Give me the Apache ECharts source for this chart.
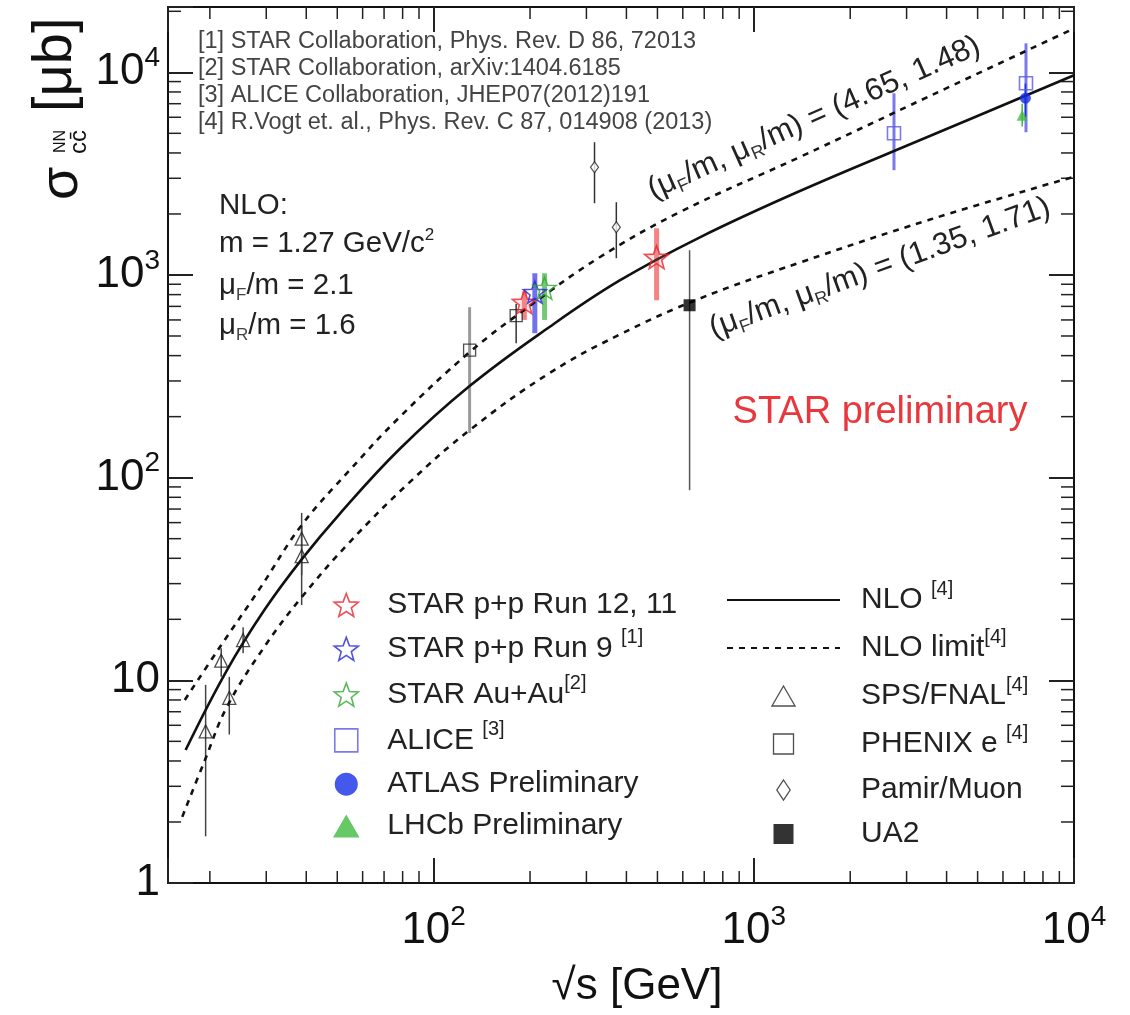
<!DOCTYPE html>
<html><head><meta charset="utf-8">
<script src="https://cdn.jsdelivr.net/npm/echarts@6/dist/echarts.min.js"></script>
<style>html,body{margin:0;padding:0;background:#fff}#chart{width:1130px;height:1015px}</style>
</head><body><div id="chart"></div>
<script>
// ---------- axis ranges and ticks ----------
const X_MIN = 14.8, X_MAX = 10000, Y_MIN = 1, Y_MAX = 21000;
const xMinorTicks = [20,30,40,50,60,70,80,90,200,300,400,500,600,700,800,900,2000,3000,4000,5000,6000,7000,8000,9000];
const yMinorTicks = [2,3,4,5,6,7,8,9,20,30,40,50,60,70,80,90,200,300,400,500,600,700,800,900,2000,3000,4000,5000,6000,7000,8000,9000,20000];

// ---------- NLO curves ----------
const nloX   = [16.8, 22.6, 29.7, 38.7, 50.9, 78.3, 129.5, 230, 380, 676, 1387, 3530, 10000];
const nloY   = [4.53, 11.2, 22.4, 39.5, 66.3, 138.4, 283, 554, 937, 1530, 2588, 4833, 9666];
const upperX = [16.7, 21.5, 28.7, 38.7, 54.7, 78.3, 129.5, 199, 330, 586, 1387, 3530, 10000];
const upperY = [8.0, 14.6, 28.5, 58.3, 109, 199, 416, 701, 1223, 2039, 3809, 7614, 16450];
const lowerX = [16.4, 19.3, 22.6, 29.7, 38.7, 54.7, 84.2, 129.5, 230, 380, 676, 1387, 3530, 10000];
const lowerY = [2.12, 4.04, 7.38, 14.75, 25.7, 48.1, 95, 171.5, 328, 507, 764, 1149, 1871, 3055];

// ---------- measurements ----------
const spsX  = [19.4, 21.7, 23.0, 25.4, 38.7, 38.7];
const spsY  = [5.6, 12.5, 8.2, 15.8, 50, 41];
const spsLo = [1.7, 10.4, 5.4, 13.6, 33, 23.5];
const spsHi = [9.5, 14.4, 10.4, 18.3, 67, 58];

const phenixX  = [129.5, 181];
const phenixY  = [426, 630];
const phenixLo = [166, 460];
const phenixHi = [693, 720];

const pamirX  = [318, 372];
const pamirY  = [3400, 1720];
const pamirLo = [2260, 1210];
const pamirHi = [4520, 2285];

const ua2X = [630], ua2Y = [709], ua2Lo = [86.7], ua2Hi = [1325];

const starRunX  = [192, 497];
const starRunY  = [734, 1224];
const starRunLo = [600, 750];
const starRunHi = [830, 1700];

const starRun9X = [207], starRun9Y = [822], starRun9Lo = [516], starRun9Hi = [1020];
const starAuX = [222], starAuY = [861], starAuLo = [600], starAuHi = [1020];

const aliceX  = [2740, 7080];
const aliceY  = [5000, 8830];
const aliceLo = [3290, 5060];
const aliceHi = [7880, 13900];

const atlasX = [7050], atlasY = [7450], atlasLo = [6000], atlasHi = [8800];
const lhcbX = [6890], lhcbY = [6140], lhcbLo = [5400], lhcbHi = [7000];

// ---------- texts ----------
const refLines = [
  '[1] STAR Collaboration, Phys. Rev. D 86, 72013',
  '[2] STAR Collaboration, arXiv:1404.6185',
  '[3] ALICE Collaboration, JHEP07(2012)191',
  '[4] R.Vogt et. al., Phys. Rev. C 87, 014908 (2013)'
];
const legendLeft = ['STAR p+p Run 12, 11', 'STAR p+p Run 9', 'STAR Au+Au', 'ALICE', 'ATLAS Preliminary', 'LHCb Preliminary'];
const legendRight = ['NLO', 'NLO limit', 'SPS/FNAL', 'PHENIX e', 'Pamir/Muon', 'UA2'];
const legendRefs = {'STAR p+p Run 9': ' {s|[1]}', 'STAR Au+Au': '{s|[2]}', 'ALICE': ' {s|[3]}',
  'NLO': ' {s|[4]}', 'NLO limit': '{s|[4]}', 'SPS/FNAL': '{s|[4]}', 'PHENIX e': ' {s|[4]}'};

// ---------- styling ----------
const FONT = "'Liberation Sans', Arial, Helvetica, sans-serif";
const NARROW = "'Liberation Sans Narrow', 'Liberation Sans', Arial, sans-serif";
const STAR = 'path://M0,-10L2.469,-3.398L9.511,-3.09L3.994,1.298L5.878,8.09L0,4.2L-5.878,8.09L-3.994,1.298L-9.511,-3.09L-2.469,-3.398Z';
const SQUARE = 'path://M0,0L10,0L10,10L0,10Z';
const TRIANGLE = 'path://M5,0L10,8.66L0,8.66Z';
const DIAMOND = 'path://M4,0L8,6L4,12L0,6Z';
const CIRCLE = 'path://M5,0A5,5,0,1,1,4.999,0Z';
const RED = '#e8262c', BLUE = '#2424d8', GREEN = '#34a834', ALICEC = '#5a5ae2', ATLASC = '#1530e6', LHCBC = '#40bb40';
const HOLLOW = 'rgba(0,0,0,0)';
const zip = (xs, ys) => xs.map((x, i) => [x, ys[i]]);
const zip3 = (xs, a, b) => xs.map((x, i) => [x, a[i], b[i]]);

function errSeries(name, xs, lo, hi, color, width, opacity) {
  return {
    type: 'custom', name: name, z: 2, silent: true,
    data: zip3(xs, lo, hi), encode: {x: 0, y: [1, 2]},
    renderItem: function (params, api) {
      const a = api.coord([api.value(0), api.value(1)]);
      const b = api.coord([api.value(0), api.value(2)]);
      return {type: 'line', shape: {x1: a[0], y1: a[1], x2: b[0], y2: b[1]},
        style: {stroke: color, lineWidth: width, opacity: opacity == null ? 1 : opacity}};
    }
  };
}
function scatter(name, xs, ys, symbol, size, itemStyle) {
  return {type: 'scatter', name: name, data: zip(xs, ys), symbol: symbol, symbolSize: size,
    symbolKeepAspect: true, itemStyle: itemStyle, z: 5, silent: true};
}
function powLabel(v) {
  const l = Math.log10(v), e = Math.round(l);
  if (Math.abs(l - e) > 1e-6) return '';
  if (e === 0) return '1';
  if (e === 1) return '10';
  return '{b|10}{e|' + e + '}';
}
const labelRich = {
  b: {fontSize: 44, fontFamily: NARROW, color: '#111'},
  e: {fontSize: 28, fontFamily: NARROW, color: '#111', padding: [0, 0, 28, 0]}
};
const axisCommon = {
  type: 'log', logBase: 10,
  axisLine: {show: true, onZero: false, lineStyle: {color: '#111', width: 2}},
  axisTick: {show: true, inside: true, length: 25, lineStyle: {color: '#222', width: 2}},
  splitLine: {show: false}, minorTick: {show: false}
};

const legendText = {fontSize: 30, fontFamily: FONT, color: '#222', lineHeight: 38, padding: [0, 0, 0, 6],
  rich: {s: {fontSize: 20, fontFamily: FONT, color: '#222', lineHeight: 16, padding: [0, 0, 22, 0]}}};
const noSymbol = {color: HOLLOW, borderColor: HOLLOW, borderWidth: 0, opacity: 0};

const option = {
  animation: false,
  backgroundColor: '#ffffff',
  grid: {left: 168, right: 56, top: 7, bottom: 132},
  xAxis: [
    Object.assign({}, axisCommon, {min: X_MIN, max: X_MAX, position: 'bottom',
      axisLabel: {show: true, margin: 20, formatter: powLabel, fontSize: 44, fontFamily: NARROW, color: '#111', rich: labelRich}}),
    Object.assign({}, axisCommon, {min: X_MIN, max: X_MAX, position: 'top', axisLabel: {show: false}})
  ],
  yAxis: [
    Object.assign({}, axisCommon, {min: Y_MIN, max: Y_MAX, position: 'left',
      axisLabel: {show: true, margin: 8, formatter: powLabel, fontSize: 44, fontFamily: NARROW, color: '#111', rich: labelRich}}),
    Object.assign({}, axisCommon, {min: Y_MIN, max: Y_MAX, position: 'right', axisLabel: {show: false}})
  ],
  legend: [
    {orient: 'vertical', left: 328, top: 581, itemWidth: 60, itemHeight: 23, itemGap: 3.8, selectedMode: false,
     symbolKeepAspect: true, textStyle: legendText, formatter: n => n + (legendRefs[n] || ''),
     data: [
       {name: legendLeft[0], icon: STAR, itemStyle: {color: HOLLOW, borderColor: RED, borderWidth: 1.6}},
       {name: legendLeft[1], icon: STAR, itemStyle: {color: HOLLOW, borderColor: BLUE, borderWidth: 1.6}},
       {name: legendLeft[2], icon: STAR, itemStyle: {color: HOLLOW, borderColor: GREEN, borderWidth: 1.6}},
       {name: legendLeft[3], icon: SQUARE, itemStyle: {color: HOLLOW, borderColor: ALICEC, borderWidth: 1.6}},
       {name: legendLeft[4], icon: CIRCLE, itemStyle: {color: ATLASC, borderWidth: 0}},
       {name: legendLeft[5], icon: TRIANGLE, itemStyle: {color: LHCBC, borderWidth: 0}}
     ]},
    {orient: 'vertical', left: 721, top: 574, itemWidth: 113, itemHeight: 20, itemGap: 6, selectedMode: false,
     symbolKeepAspect: true, textStyle: Object.assign({}, legendText, {padding: [0, 0, 0, 16]}),
     formatter: n => n + (legendRefs[n] || ''),
     data: [
       {name: legendRight[0], itemStyle: noSymbol},
       {name: legendRight[1], itemStyle: noSymbol},
       {name: legendRight[2], icon: TRIANGLE, itemStyle: {color: HOLLOW, borderColor: '#222', borderWidth: 1.3}},
       {name: legendRight[3], icon: SQUARE, itemStyle: {color: HOLLOW, borderColor: '#222', borderWidth: 1.3}},
       {name: legendRight[4], icon: DIAMOND, itemStyle: {color: HOLLOW, borderColor: '#222', borderWidth: 1.3}},
       {name: legendRight[5], icon: SQUARE, itemStyle: {color: '#000', borderWidth: 0}}
     ]}
  ],
  series: [
    // minor ticks on all four sides
    {type: 'custom', name: 'xMinor', silent: true, z: 1, clip: false,
     data: xMinorTicks.map(v => [v, Y_MIN]), encode: {x: 0, y: 1},
     renderItem: function (p, api) {
       const b = api.coord([api.value(0), Y_MIN]), t = api.coord([api.value(0), Y_MAX]);
       const st = {stroke: '#222', lineWidth: 1.5};
       return {type: 'group', children: [
         {type: 'line', shape: {x1: b[0], y1: b[1], x2: b[0], y2: b[1] - 12}, style: st},
         {type: 'line', shape: {x1: t[0], y1: t[1], x2: t[0], y2: t[1] + 12}, style: st}]};
     }},
    {type: 'custom', name: 'yMinor', silent: true, z: 1, clip: false,
     data: yMinorTicks.map(v => [X_MIN, v]), encode: {x: 0, y: 1},
     renderItem: function (p, api) {
       const l = api.coord([X_MIN, api.value(1)]), r = api.coord([X_MAX, api.value(1)]);
       const st = {stroke: '#222', lineWidth: 1.5};
       return {type: 'group', children: [
         {type: 'line', shape: {x1: l[0], y1: l[1], x2: l[0] + 13, y2: l[1]}, style: st},
         {type: 'line', shape: {x1: r[0], y1: r[1], x2: r[0] - 13, y2: r[1]}, style: st}]};
     }},
    // NLO curves
    {type: 'line', name: 'NLO', data: zip(nloX, nloY), smooth: 0.4, symbol: 'none', z: 3, silent: true,
     itemStyle: {color: '#111'}, lineStyle: {color: '#111', width: 2.6}},
    {type: 'line', name: 'NLO limit', data: zip(upperX, upperY), smooth: 0.4, symbol: 'none', z: 3, silent: true,
     itemStyle: {color: '#111'}, lineStyle: {color: '#111', width: 2.6, type: [6, 6]}},
    {type: 'line', name: 'NLO limit', data: zip(lowerX, lowerY), smooth: 0.4, symbol: 'none', z: 3, silent: true,
     itemStyle: {color: '#111'}, lineStyle: {color: '#111', width: 2.6, type: [6, 6]}},
    // error bars
    errSeries('err-sps', spsX, spsLo, spsHi, '#444', 1.5),
    errSeries('err-phenix130', phenixX.slice(0, 1), phenixLo.slice(0, 1), phenixHi.slice(0, 1), '#9a9a9a', 3),
    errSeries('err-phenix200', phenixX.slice(1), phenixLo.slice(1), phenixHi.slice(1), '#333', 1.5),
    errSeries('err-pamir', pamirX, pamirLo, pamirHi, '#333', 1.5),
    errSeries('err-ua2', ua2X, ua2Lo, ua2Hi, '#555', 1.5),
    errSeries('err-starrun', starRunX, starRunLo, starRunHi, '#f05a5a', 5, 0.75),
    errSeries('err-starrun9', starRun9X, starRun9Lo, starRun9Hi, '#5858ea', 5, 0.85),
    errSeries('err-starau', starAuX, starAuLo, starAuHi, '#5cc05c', 5, 0.85),
    errSeries('err-alice', aliceX, aliceLo, aliceHi, '#7a7aea', 3),
    errSeries('err-atlas', atlasX, atlasLo, atlasHi, ATLASC, 1.5),
    errSeries('err-lhcb', lhcbX, lhcbLo, lhcbHi, LHCBC, 1.5),
    // markers
    scatter('SPS/FNAL', spsX, spsY, 'triangle', 13, {color: HOLLOW, borderColor: '#222', borderWidth: 1.3}),
    scatter('PHENIX e', phenixX, phenixY, 'rect', 12, {color: HOLLOW, borderColor: '#222', borderWidth: 1.3}),
    scatter('Pamir/Muon', pamirX, pamirY, 'diamond', [8, 11], {color: '#fff', borderColor: '#222', borderWidth: 1.2}),
    scatter('UA2', ua2X, ua2Y, 'rect', 12, {color: '#000'}),
    scatter('STAR p+p Run 12, 11', starRunX, starRunY, STAR, 24, {color: 'rgba(255,140,140,0.25)', borderColor: RED, borderWidth: 1.6}),
    scatter('STAR p+p Run 9', starRun9X, starRun9Y, STAR, 23, {color: HOLLOW, borderColor: BLUE, borderWidth: 1.6}),
    scatter('STAR Au+Au', starAuX, starAuY, STAR, 23, {color: HOLLOW, borderColor: GREEN, borderWidth: 1.6}),
    scatter('ALICE', aliceX, aliceY, 'rect', 13, {color: HOLLOW, borderColor: ALICEC, borderWidth: 1.6}),
    scatter('ATLAS Preliminary', atlasX, atlasY, 'circle', 11, {color: ATLASC}),
    scatter('LHCb Preliminary', lhcbX, lhcbY, 'triangle', 11, {color: LHCBC})
  ],
  graphic: [
    // references
    {type: 'text', x: 198, y: 42, style: {text: refLines[0], fontSize: 23.5, fontFamily: FONT, fill: '#444', verticalAlign: 'middle'}},
    {type: 'text', x: 198, y: 69, style: {text: refLines[1], fontSize: 23.5, fontFamily: FONT, fill: '#444', verticalAlign: 'middle'}},
    {type: 'text', x: 198, y: 96, style: {text: refLines[2], fontSize: 23.5, fontFamily: FONT, fill: '#444', verticalAlign: 'middle'}},
    {type: 'text', x: 198, y: 123, style: {text: refLines[3], fontSize: 23.5, fontFamily: FONT, fill: '#444', verticalAlign: 'middle'}},
    // NLO parameters
    {type: 'text', x: 219, y: 206, style: {text: 'NLO:', fontSize: 29.5, fontFamily: FONT, fill: '#222', verticalAlign: 'middle'}},
    {type: 'text', x: 219, y: 244, style: {text: 'm = 1.27 GeV/c{p|2}', fontSize: 29.5, fontFamily: FONT, fill: '#222', verticalAlign: 'middle',
      rich: {p: {fontSize: 17, fontFamily: FONT, fill: '#222', padding: [0, 0, 18, 0]}}}},
    {type: 'text', x: 219, y: 286, style: {text: 'μ{q|F}/m = 2.1', fontSize: 29.5, fontFamily: FONT, fill: '#222', verticalAlign: 'middle',
      rich: {q: {fontSize: 17, fontFamily: FONT, fill: '#444', padding: [18, 0, 0, 0]}}}},
    {type: 'text', x: 219, y: 326, style: {text: 'μ{q|R}/m = 1.6', fontSize: 29.5, fontFamily: FONT, fill: '#222', verticalAlign: 'middle',
      rich: {q: {fontSize: 17, fontFamily: FONT, fill: '#444', padding: [18, 0, 0, 0]}}}},
    // curve labels
    {type: 'text', x: 814, y: 118, rotation: 24 * Math.PI / 180,
     style: {text: '(μ{q|F}/m, μ{q|R}/m) = (4.65, 1.48)', fontSize: 31, fontFamily: FONT, fill: '#222', align: 'center', verticalAlign: 'middle',
      rich: {q: {fontSize: 18, fontFamily: FONT, fill: '#333', padding: [18, 0, 0, 0]}}}},
    {type: 'text', x: 880, y: 268, rotation: 20 * Math.PI / 180,
     style: {text: '(μ{q|F}/m, μ{q|R}/m) = (1.35, 1.71)', fontSize: 31, fontFamily: FONT, fill: '#222', align: 'center', verticalAlign: 'middle',
      rich: {q: {fontSize: 18, fontFamily: FONT, fill: '#333', padding: [18, 0, 0, 0]}}}},
    // STAR preliminary
    {type: 'text', x: 880, y: 413, style: {text: 'STAR preliminary', fontSize: 38, fontFamily: FONT, fill: '#e8383d', align: 'center', verticalAlign: 'middle'}},
    // x axis title
    {type: 'text', x: 637, y: 987, style: {text: '√s [GeV]', fontSize: 44, fontFamily: NARROW, fill: '#111', align: 'center', verticalAlign: 'middle'}},
    // y axis title
    {type: 'group', x: 62, y: 200, rotation: Math.PI / 2, children: [
      {type: 'text', x: 0, y: 0, style: {text: 'σ', fontSize: 54, fontFamily: FONT, fill: '#111', align: 'left', verticalAlign: 'middle'}},
      {type: 'text', x: 47, y: -1, style: {text: 'NN', fontSize: 16, fontFamily: FONT, fill: '#111', align: 'left', verticalAlign: 'middle'}},
      {type: 'text', x: 46, y: 17, style: {text: 'cc\u0304', fontSize: 24, fontFamily: FONT, fill: '#111', align: 'left', verticalAlign: 'middle'}},
      {type: 'text', x: 88, y: -6, style: {text: '[μb]', fontSize: 56, fontFamily: FONT, fill: '#111', align: 'left', verticalAlign: 'middle'}}
    ]}
  ]
};
const chart = echarts.init(document.getElementById('chart'), null, {renderer: 'canvas'});
chart.setOption(option);
</script></body></html>
